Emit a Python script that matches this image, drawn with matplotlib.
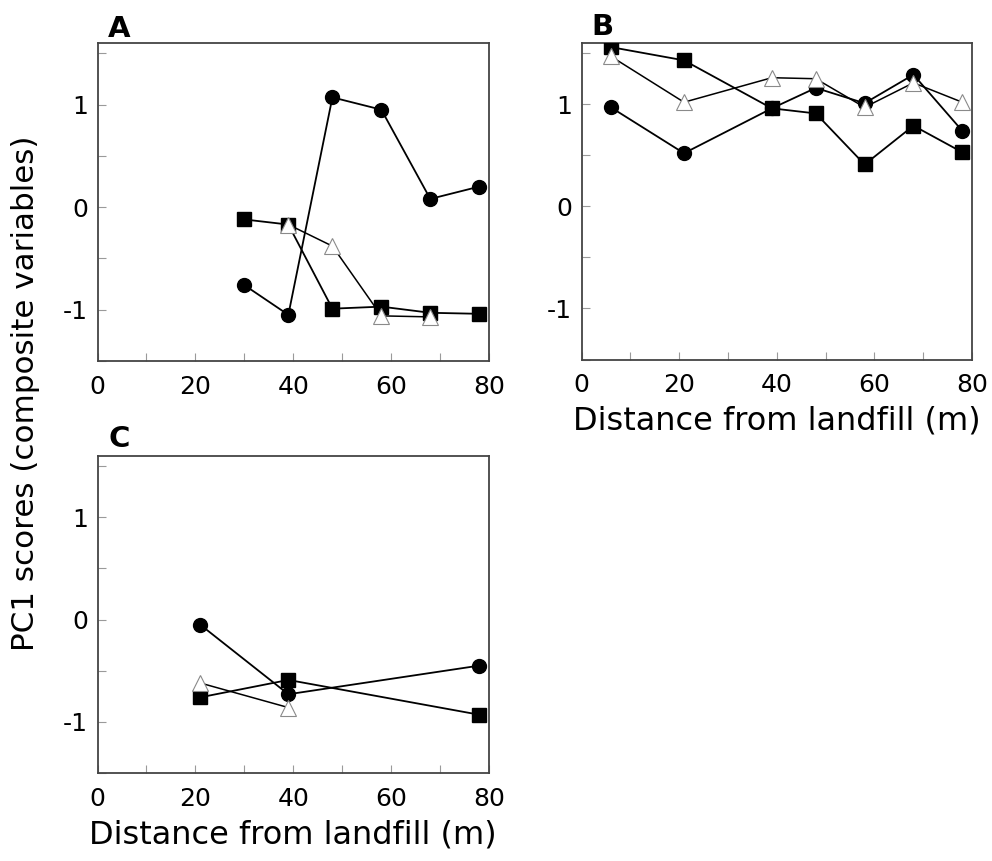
import matplotlib
matplotlib.use("Agg")
import matplotlib.pyplot as plt
from matplotlib.ticker import MultipleLocator, FuncFormatter

# ---- data ----
a_circle_x = [30, 39, 48, 58, 68, 78]
a_circle_y = [-0.76, -1.05, 1.07, 0.95, 0.08, 0.20]
a_square_x = [30, 39, 48, 58, 68, 78]
a_square_y = [-0.12, -0.17, -0.99, -0.97, -1.03, -1.04]
a_tri_x = [39, 48, 58, 68]
a_tri_y = [-0.17, -0.38, -1.06, -1.07]

b_circle_x = [6, 21, 39, 48, 58, 68, 78]
b_circle_y = [0.97, 0.52, 0.96, 1.16, 1.01, 1.29, 0.74]
b_square_x = [6, 21, 39, 48, 58, 68, 78]
b_square_y = [1.56, 1.43, 0.96, 0.91, 0.41, 0.79, 0.53]
b_tri_x = [6, 21, 39, 48, 58, 68, 78]
b_tri_y = [1.47, 1.02, 1.26, 1.25, 0.97, 1.21, 1.02]

c_circle_x = [21, 39, 78]
c_circle_y = [-0.05, -0.73, -0.45]
c_square_x = [21, 39, 78]
c_square_y = [-0.76, -0.59, -0.93]
c_tri_x = [21, 39]
c_tri_y = [-0.62, -0.86]

x_ticks = [0, 20, 40, 60, 80]
y_ticks = [-1, 0, 1]
xlabel = "Distance from landfill (m)"
ylabel = "PC1 scores (composite variables)"

plt.rcParams['font.family'] = ['DejaVu Sans']

fig = plt.figure(figsize=(9.92, 8.61), dpi=100)
W, H = 992, 861

def make_axes(l, t, r, b):
    return fig.add_axes([l / W, 1 - b / H, (r - l) / W, (b - t) / H])

axA = make_axes(97.5, 43, 489, 361)
axB = make_axes(581.5, 43, 972, 359.5)
axC = make_axes(97.5, 456, 489, 773)

def style(ax):
    ax.set_xlim(0, 80)
    ax.set_ylim(-1.5, 1.6)
    ax.set_xticks(x_ticks)
    ax.set_yticks(y_ticks)
    ax.xaxis.set_minor_locator(MultipleLocator(10))
    ax.yaxis.set_minor_locator(MultipleLocator(0.5))
    ax.yaxis.set_major_formatter(FuncFormatter(lambda v, p: f"{v:g}".replace("\u2212", "-")))
    ax.tick_params(which='both', direction='in', length=6, width=0.8,
                   color='#9a9a9a', labelsize=18, top=False, right=False)
    ax.tick_params(axis='x', which='both', pad=10)
    ax.tick_params(axis='y', which='both', pad=7)
    for s in ax.spines.values():
        s.set_color('#444444')
        s.set_linewidth(1.3)

def plot_series(ax, sx, sy, cx, cy, tx, ty):
    ax.plot(sx, sy, color='black', lw=1.3, marker='s', ms=10,
            mfc='black', mec='black', zorder=3)
    ax.plot(tx, ty, color='black', lw=1.1, marker='^', ms=12,
            mfc='white', mec='#8a8a8a', mew=0.8, zorder=4)
    ax.plot(cx, cy, color='black', lw=1.3, marker='o', ms=10,
            mfc='black', mec='black', zorder=3)

plot_series(axA, a_square_x, a_square_y, a_circle_x, a_circle_y, a_tri_x, a_tri_y)
plot_series(axB, b_square_x, b_square_y, b_circle_x, b_circle_y, b_tri_x, b_tri_y)
plot_series(axC, c_square_x, c_square_y, c_circle_x, c_circle_y, c_tri_x, c_tri_y)

for ax in (axA, axB, axC):
    style(ax)

axB.set_xlabel(xlabel, fontsize=23, labelpad=6)
axC.set_xlabel(xlabel, fontsize=23, labelpad=6)

fig.text(26 / W, 1 - 393 / H, ylabel, rotation=90, fontsize=22.3,
         ha='center', va='center')

fig.text(108 / W, 1 - 37 / H, "A", fontsize=21, fontweight='bold', ha='left', va='baseline')
fig.text(591 / W, 1 - 35 / H, "B", fontsize=21, fontweight='bold', ha='left', va='baseline')
fig.text(108 / W, 1 - 447 / H, "C", fontsize=21, fontweight='bold', ha='left', va='baseline')

fig.savefig("out.png", dpi=100)
